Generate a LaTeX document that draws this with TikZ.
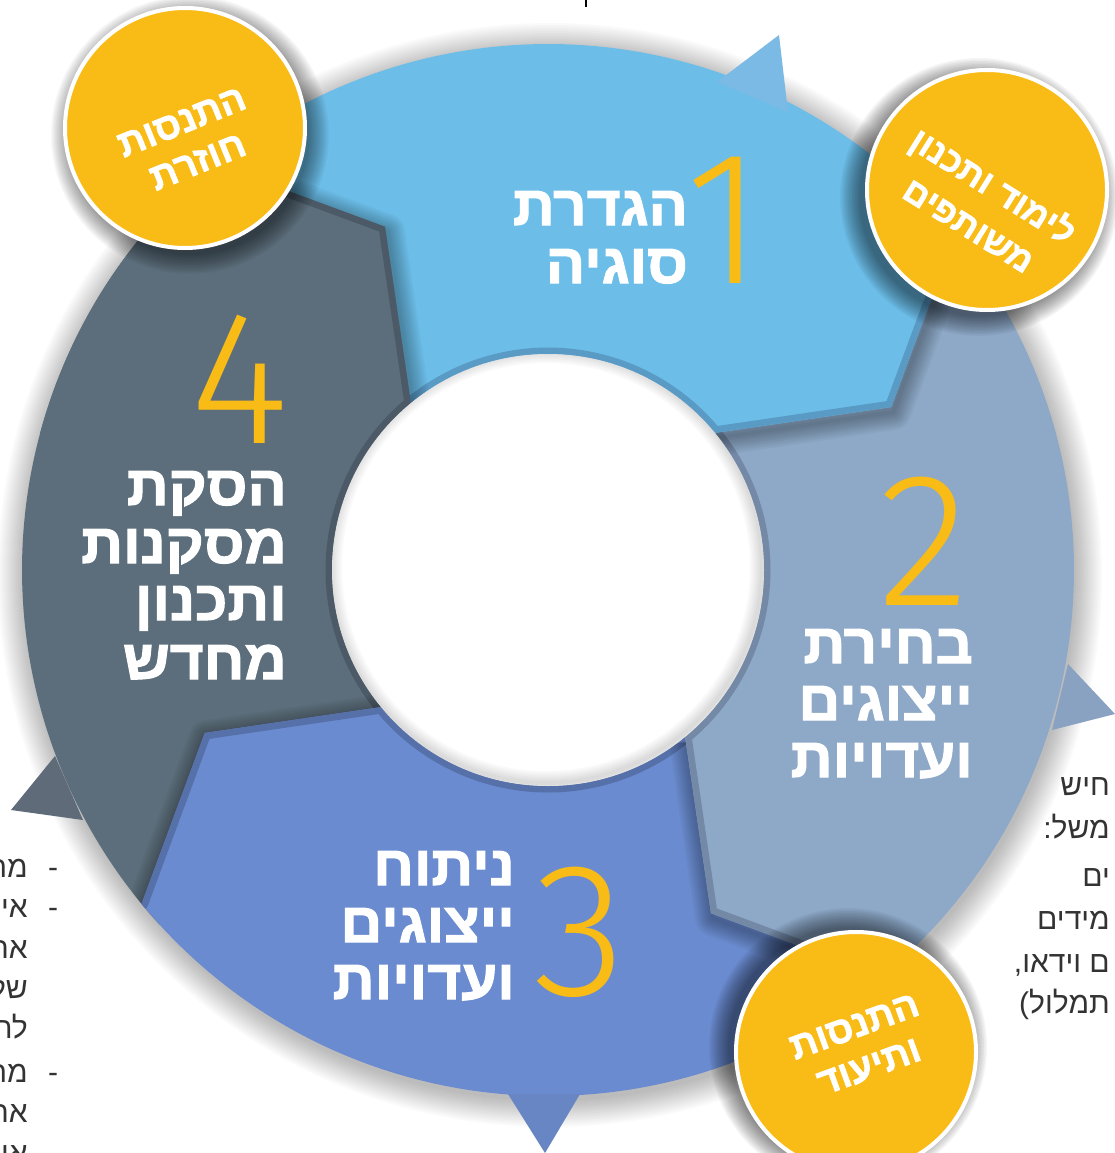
\documentclass[tikz,border=0pt]{standalone}
\usepackage{fontspec}
\usetikzlibrary{calc}
\TeXXeTstate=1
\newfontfamily\hebB{Liberation Sans}[Script=Hebrew,UprightFont=* Bold,FakeStretch=1.04,FakeBold=2]
\newfontfamily\hebC{Liberation Sans}[Script=Hebrew,UprightFont=* Bold,FakeBold=1.5]
\newfontfamily\hebR{Liberation Sans}[Script=Hebrew]
\newfontfamily\thinfont{Fira Sans Light}
\definecolor{sA}{HTML}{6CBEE9}\definecolor{sAd}{HTML}{5A9BC6}
\definecolor{sB}{HTML}{8EA9C8}\definecolor{sBd}{HTML}{7489A6}
\definecolor{sC}{HTML}{6A8BCF}\definecolor{sCd}{HTML}{5670A9}
\definecolor{sD}{HTML}{5C6E7B}\definecolor{sDd}{HTML}{4B5A66}
\definecolor{ylw}{HTML}{F9BB16}
\definecolor{txt}{HTML}{333333}
\newcommand\segshape[2]{($(C)+(#1:526)$) arc[start angle=#1,end angle=#2,radius=526] -- ($(C)+({#2+14}:380)$) -- ($(C)+(#2:216)$) arc[start angle=#2,end angle=#1,radius=216] -- cycle}
\newcommand\segedge[1]{($(C)+(#1:560)$) -- ($(C)+(#1:526)$) -- ($(C)+({#1+14}:380)$) -- ($(C)+(#1:216)$) arc[start angle=#1,end angle={#1-100},radius=216]}
\newcommand\segfill[4]{%
  \begin{scope}
    \clip \segshape{#1}{#2};
    \fill[#3] (0,0) rectangle (1115,1153);
    \draw[#4,line width=13,line join=round] \segedge{#2};
  \end{scope}}
\newcommand\segshadow[1]{%
  \begin{scope}
    \clip ($(C)+(0:526)$) arc[start angle=0,end angle=360,radius=526] -- ($(C)+(0:216)$) arc[start angle=360,end angle=0,radius=216] -- cycle;
    \foreach \w in {36,32,...,4}{%
      \draw[black,opacity=0.035,line width=\w,line join=round] ($(C)+(2,5)+(#1:560)$) -- ($(C)+(2,5)+(#1:526)$) -- ($(C)+(2,5)+({#1+14}:380)$) -- ($(C)+(2,5)+(#1:216)$);}
  \end{scope}}
\tikzset{
  lbl/.style={font=\hebB\fontsize{56}{56}\selectfont,text=white,inner sep=0pt,anchor=base east},
  dig/.style={font=\thinfont\fontsize{190}{190}\selectfont,text=ylw,inner sep=0pt,anchor=base},
  ybub/.style={circle,fill=ylw,draw=white,line width=4pt,minimum size=240pt,inner sep=0pt},
  ctext/.style={font=\hebC\fontsize{38}{43}\selectfont,text=white,align=center,inner sep=0pt},
  side/.style={font=\hebR\fontsize{30}{30}\selectfont,text=txt,inner sep=0pt,anchor=base east},
  dashmark/.style={font=\hebR\fontsize{30}{30}\selectfont,text=txt,inner sep=0pt,anchor=base}
}
\begin{document}
\begin{tikzpicture}[x=1pt,y=-1pt]
\useasboundingbox (0,0) rectangle (1115,1153);
\clip (0,0) rectangle (1115,1153);
\fill[white] (0,0) rectangle (1115,1153);
\coordinate (C) at (548,570);
% ring shadow
\foreach \i in {1,...,14}{\fill[black,opacity=0.018] ($(C)+(2,5)$) circle[radius={524+2*\i}];}
% segments
\segfill{137.6}{230.6}{sD}{sDd}
\segshadow{140.6}
\segfill{47.6}{140.6}{sC}{sCd}
\segshadow{50.6}
\segfill{-42.4}{50.6}{sB}{sBd}
\segshadow{-39.4}
\segfill{-132.4}{-39.4}{sA}{sAd}
\begin{scope}
  \clip (C) -- ($(C)+(195:800)$) -- ($(C)+(235:800)$) -- ($(C)+(275:800)$) -- cycle;
  \segshadow{230.6}
  \segfill{137.6}{230.6}{sD}{sDd}
\end{scope}
% arrow tips
\fill[fill={rgb,255:red,122;green,186;blue,228}] (717,82) -- (779,35) -- (788,112) -- cycle;
\fill[fill={rgb,255:red,138;green,162;blue,194}] (1068,664) -- (1115,714) -- (1052,730) -- cycle;
\fill[fill={rgb,255:red,104;green,134;blue,195}] (508,1094) -- (580,1094) -- (545,1153) -- cycle;
\fill[fill={rgb,255:red,95;green,107;blue,121}] (11,810) -- (55,756) -- (83,820) -- cycle;
% centre
\fill[white] (C) circle[radius=216];
\begin{scope}
  \clip (C) circle[radius=216];
  \foreach \w in {4,8,...,24}{\draw[black,opacity=0.025,line width=\w] ($(C)+(-2,-3)$) circle[radius=216];}
\end{scope}
% labels
\node[dig] (n1) at (725,283) {1};
\node[lbl] (l1a) at (688,225) {\beginR הגדרת\endR};
\node[lbl] (l1b) at (688,283) {\beginR סוגיה\endR};
\node[dig] (n2) at (924,605) {2};
\node[lbl] (l2a) at (973,663) {\beginR בחירת\endR};
\node[lbl] (l2b) at (973,720) {\beginR ייצוגים\endR};
\node[lbl] (l2c) at (973,777) {\beginR ועדויות\endR};
\node[dig] (n3) at (580,995) {3};
\node[lbl] (l3a) at (515,885) {\beginR ניתוח\endR};
\node[lbl] (l3b) at (515,942) {\beginR ייצוגים\endR};
\node[lbl] (l3c) at (515,999) {\beginR ועדויות\endR};
\node[dig] (n4) at (240,443) {4};
\node[lbl] (l4a) at (287,505) {\beginR הסקת\endR};
\node[lbl] (l4b) at (287,563) {\beginR מסקנות\endR};
\node[lbl] (l4c) at (287,620) {\beginR ותכנון\endR};
\node[lbl] (l4d) at (287,679) {\beginR מחדש\endR};
% yellow bubbles
\coordinate (Y1) at (185,128);
\coordinate (Y2) at (987,190);
\coordinate (Y3) at (856,1052);
\foreach \i in {1,...,14}{\fill[black,opacity=0.035] ($(Y1)+(5,7)$) circle[radius={118+1.5*\i}];}
\foreach \i in {1,...,14}{\fill[black,opacity=0.04] ($(Y2)+(-8,7)$) circle[radius={118+1.5*\i}];}
\foreach \i in {1,...,14}{\fill[black,opacity=0.04] ($(Y3)+(-8,-5)$) circle[radius={118+1.5*\i}];}
\node[ybub] (b1) at (Y1) {};
\node[ybub] (b2) at (Y2) {};
\node[ybub] (b3) at (Y3) {};
\node[ctext,rotate=22] (t1) at (190,142) {\beginR התנסות\endR\\\beginR חוזרת\endR};
\node[ctext,rotate=-32,font=\hebC\fontsize{35}{46}\selectfont] (t2) at (982,204) {\beginR לימוד ותכנון\endR\\\beginR משותפים\endR};
\node[ctext,rotate=20] (t3) at (862,1047) {\beginR התנסות\endR\\\beginR ותיעוד\endR};
% cut-off page text, left
\node[dashmark] (d1) at (53,877) {-};
\node[dashmark] (d2) at (53,917) {-};
\node[dashmark] (d3) at (53,1082) {-};
\node[side] (sl1) at (28,877) {\beginR מה\endR};
\node[side] (sl2) at (28,917) {\beginR איך\endR};
\node[side] (sl3) at (28,958) {\beginR אר\endR};
\node[side] (sl4) at (28,998) {\beginR של\endR};
\node[side] (sl5) at (28,1038) {\beginR לח\endR};
\node[side] (sl6) at (28,1082) {\beginR מה\endR};
\node[side] (sl7) at (28,1122) {\beginR אר\endR};
\node[side] (sl8) at (28,1163) {\beginR אי\endR};
% cut-off page text, right
\node[side] (sr1) at (1110,795) {\beginR חיש\endR};
\node[side] (sr2) at (1110,838) {\beginR משל:\endR};
\node[side] (sr3) at (1110,886) {\beginR ים\endR};
\node[side] (sr4) at (1110,929) {\beginR מידים\endR};
\node[side] (sr5) at (1110,972) {\beginR ם וידאו,\endR};
\node[side] (sr6) at (1110,1013) {\beginR תמלול)\endR};
\draw[black,line width=2.5pt] (586,0) -- (586,7);
\end{tikzpicture}
\end{document}
